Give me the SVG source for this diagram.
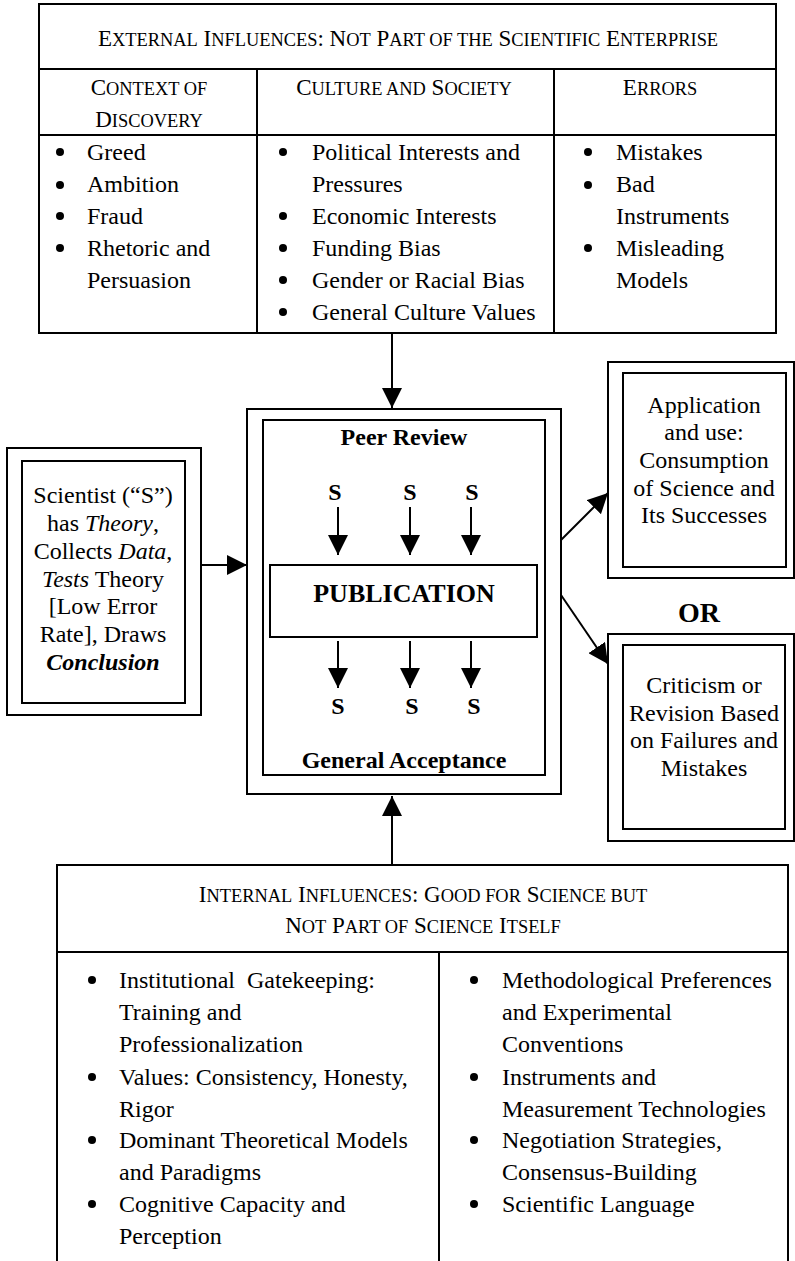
<svg xmlns="http://www.w3.org/2000/svg" width="795" height="1261" viewBox="0 0 795 1261">
<style>
text{font-family:"Liberation Serif","Times New Roman",serif;fill:#000}
.t{font-size:24px}
.c{text-anchor:middle}
.b{font-weight:bold}
.sc{font-size:23px}
.sm{font-size:18.4px}
.box{fill:#fff;stroke:#000;stroke-width:2}
.ln{stroke:#000;stroke-width:2;fill:none}
.arr{stroke:#000;stroke-width:2;fill:none;marker-end:url(#ah)}
.bul{fill:#000}
</style>
<defs>
<marker id="ah" viewBox="0 0 10 10" refX="10" refY="5" markerWidth="10" markerHeight="10" orient="auto" markerUnits="strokeWidth">
<path d="M0,0 L10,5 L0,10 z" fill="#000"/>
</marker>
</defs>
<rect width="795" height="1261" fill="#fff"/>

<g id="external">
<rect class="box" x="39" y="4" width="737" height="329"/>
<line class="ln" x1="39" y1="69" x2="776" y2="69"/>
<line class="ln" x1="39" y1="135" x2="776" y2="135"/>
<line class="ln" x1="257" y1="69" x2="257" y2="333"/>
<line class="ln" x1="554" y1="69" x2="554" y2="333"/>
<text class="sc c" x="408" y="46">E<tspan class="sm">XTERNAL</tspan> I<tspan class="sm">NFLUENCES</tspan>: N<tspan class="sm">OT</tspan> P<tspan class="sm">ART OF THE</tspan> S<tspan class="sm">CIENTIFIC</tspan> E<tspan class="sm">NTERPRISE</tspan></text>
<text class="sc c" x="149" y="95">C<tspan class="sm">ONTEXT OF</tspan></text>
<text class="sc c" x="149" y="127">D<tspan class="sm">ISCOVERY</tspan></text>
<text class="sc c" x="404" y="95">C<tspan class="sm">ULTURE AND</tspan> S<tspan class="sm">OCIETY</tspan></text>
<text class="sc c" x="660" y="95">E<tspan class="sm">RRORS</tspan></text>
<g class="bul">
<circle cx="60" cy="152" r="4"/><circle cx="60" cy="185" r="4"/><circle cx="60" cy="216" r="4"/><circle cx="60" cy="248" r="4"/>
<circle cx="283" cy="152" r="4"/><circle cx="283" cy="216" r="4"/><circle cx="283" cy="248" r="4"/><circle cx="283" cy="280" r="4"/><circle cx="283" cy="312" r="4"/>
<circle cx="588" cy="152" r="4"/><circle cx="588" cy="185" r="4"/><circle cx="588" cy="248" r="4"/>
</g>
<text class="t" x="87" y="160">Greed</text>
<text class="t" x="87" y="192">Ambition</text>
<text class="t" x="87" y="224">Fraud</text>
<text class="t" x="87" y="256">Rhetoric and</text>
<text class="t" x="87" y="288">Persuasion</text>
<text class="t" x="312" y="160">Political Interests and</text>
<text class="t" x="312" y="192">Pressures</text>
<text class="t" x="312" y="224">Economic Interests</text>
<text class="t" x="312" y="256">Funding Bias</text>
<text class="t" x="312" y="288">Gender or Racial Bias</text>
<text class="t" x="312" y="320">General Culture Values</text>
<text class="t" x="616" y="160">Mistakes</text>
<text class="t" x="616" y="192">Bad</text>
<text class="t" x="616" y="224">Instruments</text>
<text class="t" x="616" y="256">Misleading</text>
<text class="t" x="616" y="288">Models</text>
</g>

<g id="scientist">
<rect class="box" x="7" y="448" width="194" height="267"/>
<rect class="box" x="22" y="461" width="163" height="242"/>
<text class="t c" x="103" y="503">Scientist (“S”)</text>
<text class="t c" x="103" y="531">has <tspan font-style="italic">Theory</tspan>,</text>
<text class="t c" x="103" y="559">Collects <tspan font-style="italic">Data</tspan>,</text>
<text class="t c" x="103" y="587"><tspan font-style="italic">Tests</tspan> Theory</text>
<text class="t c" x="103" y="614">[Low Error</text>
<text class="t c" x="103" y="642">Rate], Draws</text>
<text class="t c b" x="103" y="670" font-style="italic">Conclusion</text>
</g>

<g id="central">
<rect class="box" x="247" y="409" width="314" height="385"/>
<rect class="box" x="263" y="420" width="282" height="355"/>
<text class="t c b" x="404" y="445">Peer Review</text>
<text class="t c b" x="335" y="500">S</text>
<text class="t c b" x="410" y="500">S</text>
<text class="t c b" x="472" y="500">S</text>
<line class="arr" x1="338" y1="507" x2="338" y2="555"/>
<line class="arr" x1="410" y1="507" x2="410" y2="555"/>
<line class="arr" x1="471" y1="507" x2="471" y2="555"/>
<rect class="box" x="270" y="565" width="267" height="72"/>
<text class="c b" x="404" y="602" font-size="26">PUBLICATION</text>
<line class="arr" x1="338" y1="641" x2="338" y2="688"/>
<line class="arr" x1="410" y1="641" x2="410" y2="688"/>
<line class="arr" x1="471" y1="641" x2="471" y2="688"/>
<text class="t c b" x="338" y="714">S</text>
<text class="t c b" x="412" y="714">S</text>
<text class="t c b" x="474" y="714">S</text>
<text class="t c b" x="404" y="768">General Acceptance</text>
</g>

<g id="application">
<rect class="box" x="608" y="362" width="186" height="216"/>
<rect class="box" x="623" y="373" width="163" height="194"/>
<text class="t c" x="704" y="413">Application</text>
<text class="t c" x="704" y="440">and use:</text>
<text class="t c" x="704" y="468">Consumption</text>
<text class="t c" x="704" y="496">of Science and</text>
<text class="t c" x="704" y="523">Its Successes</text>
</g>

<g id="or">
<text class="c b" x="699" y="622" font-size="28">OR</text>
</g>

<g id="criticism">
<rect class="box" x="608" y="634" width="186" height="207"/>
<rect class="box" x="623" y="645" width="162" height="184"/>
<text class="t c" x="704" y="693">Criticism or</text>
<text class="t c" x="704" y="721">Revision Based</text>
<text class="t c" x="704" y="748">on Failures and</text>
<text class="t c" x="704" y="776">Mistakes</text>
</g>

<g id="internal">
<rect class="box" x="57" y="865" width="731" height="420"/>
<line class="ln" x1="57" y1="952" x2="788" y2="952"/>
<line class="ln" x1="439" y1="952" x2="439" y2="1285"/>
<text class="sc c" x="423" y="902">I<tspan class="sm">NTERNAL</tspan> I<tspan class="sm">NFLUENCES</tspan>: G<tspan class="sm">OOD FOR</tspan> S<tspan class="sm">CIENCE BUT</tspan></text>
<text class="sc c" x="423" y="933">N<tspan class="sm">OT</tspan> P<tspan class="sm">ART OF</tspan> S<tspan class="sm">CIENCE</tspan> I<tspan class="sm">TSELF</tspan></text>
<g class="bul">
<circle cx="92" cy="980" r="4"/><circle cx="92" cy="1077" r="4"/><circle cx="92" cy="1140" r="4"/><circle cx="92" cy="1204" r="4"/>
<circle cx="474" cy="980" r="4"/><circle cx="474" cy="1077" r="4"/><circle cx="474" cy="1140" r="4"/><circle cx="474" cy="1204" r="4"/>
</g>
<text class="t" x="119" y="988" xml:space="preserve">Institutional  Gatekeeping:</text>
<text class="t" x="119" y="1020">Training and</text>
<text class="t" x="119" y="1052">Professionalization</text>
<text class="t" x="119" y="1085">Values: Consistency, Honesty,</text>
<text class="t" x="119" y="1117">Rigor</text>
<text class="t" x="119" y="1148">Dominant Theoretical Models</text>
<text class="t" x="119" y="1180">and Paradigms</text>
<text class="t" x="119" y="1212">Cognitive Capacity and</text>
<text class="t" x="119" y="1244">Perception</text>
<text class="t" x="502" y="988">Methodological Preferences</text>
<text class="t" x="502" y="1020">and Experimental</text>
<text class="t" x="502" y="1052">Conventions</text>
<text class="t" x="502" y="1085">Instruments and</text>
<text class="t" x="502" y="1117">Measurement Technologies</text>
<text class="t" x="502" y="1148">Negotiation Strategies,</text>
<text class="t" x="502" y="1180">Consensus-Building</text>
<text class="t" x="502" y="1212">Scientific Language</text>
</g>

<g id="connectors">
<line class="arr" x1="392" y1="333" x2="392" y2="408"/>
<line class="arr" x1="201" y1="565" x2="247" y2="565"/>
<line class="arr" x1="561" y1="540" x2="608" y2="493"/>
<line class="arr" x1="561" y1="595" x2="608" y2="664"/>
<line class="arr" x1="392" y1="865" x2="392" y2="796"/>
</g>
</svg>
